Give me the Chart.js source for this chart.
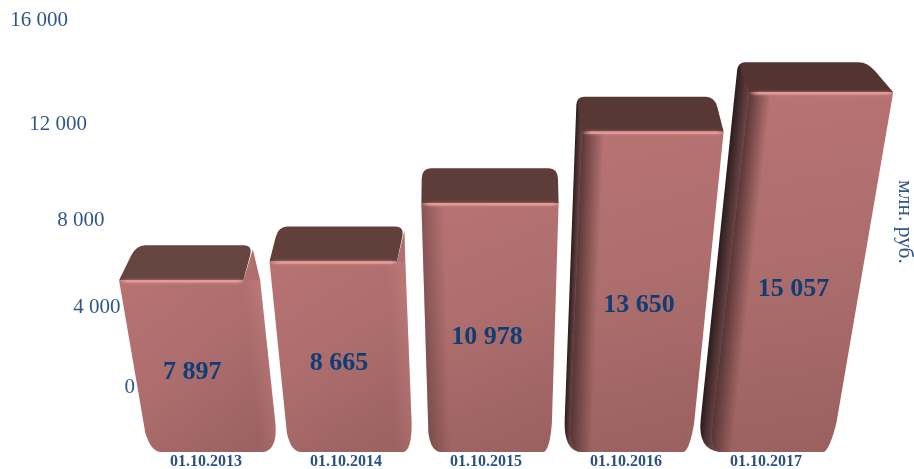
<!DOCTYPE html>
<html>
<head>
<meta charset="utf-8">
<script src="https://cdn.jsdelivr.net/npm/chart.js@4"></script>
<style>
  html, body { margin: 0; padding: 0; background: #fff; }
  #wrap { position: relative; width: 914px; height: 469px; }
</style>
</head>
<body>
<div id="wrap"><canvas id="c"></canvas></div>
<script>
const categories = ['01.10.2013', '01.10.2014', '01.10.2015', '01.10.2016', '01.10.2017'];
const values = [7897, 8665, 10978, 13650, 15057];
const tickValues = [0, 4000, 8000, 12000, 16000];
const unitLabel = 'млн. руб.';

const SERIF = '"Liberation Serif", "Times New Roman", serif';
const VP = { x: 490, y: 2440 }; // vanishing point of the vertical edges
const WARP = 0.166;             // upward stretch of the value axis

function fmt(v) {
    return String(v).replace(/\B(?=(\d{3})+$)/g, ' ');
}

// x of a line going to the vanishing point, known at (x0, y0)
function skew(x0, y0, y) {
    return VP.x + (x0 - VP.x) * (VP.y - y) / (VP.y - y0);
}

// linear scale with the perspective stretch of the picture
class PerspectiveScale extends Chart.LinearScale {
    static id = 'perspective';
    static defaults = Chart.LinearScale.defaults;
    getPixelForValue(value) {
        const d = (value - this.min) / (this.max - this.min);
        return this.getPixelForDecimal(d * (1 - WARP) / (1 - WARP * d));
    }
}
Chart.register(PerspectiveScale);

function edgeFade(ctx, x0, y0, x1, y1, size, from, to) {
    // gradient running across a slanted edge
    const len = Math.hypot(x1 - x0, y1 - y0);
    const nx = (y1 - y0) / len, ny = -(x1 - x0) / len;
    const g = ctx.createLinearGradient(x0, y0, x0 + nx * size, y0 + ny * size);
    g.addColorStop(0, from);
    g.addColorStop(1, to);
    return g;
}

function drawBar(ctx, el, value) {
    const { x, y, base, width } = el;
    const x0 = x - width / 2;
    // bars left of the centre show their rounded right flank as well
    const x1 = x + width / 2 + Math.max(0, VP.x - x) * Math.max(0, VP.x - x) * 0.0001;
    const fl = skew(x0, base, y), fr = skew(x1, base, y);
    const depth = Math.min(35, 30 + (y - 92) * 0.15);
    const by = y - depth;
    const bl = fl - (fl - 430) * (fl < 430 ? 0.055 : 0.035);
    const br = fr - 0.00015 * (fr - 480) * (fr - 480);
    const topInset = Math.max(0, VP.x - x) * 0.06;
    const bottom = base - 3;
    const outer = yy => VP.x + (bl - VP.x) * (VP.y - yy) / (VP.y - by);
    const hasSide = outer(base) < x0 - 1;

    // dark left side, only where the back corner sticks out
    if (hasSide) {
        ctx.beginPath();
        ctx.moveTo(bl + 8, by);
        ctx.quadraticCurveTo(outer(by), by, outer(by + 8), by + 8);
        ctx.lineTo(outer(base - 35), base - 35);
        ctx.quadraticCurveTo(outer(base - 6), base - 6, x0 + 10, bottom);
        ctx.lineTo(fl + 8, y);
        ctx.closePath();
        ctx.fillStyle = edgeFade(ctx, outer(by), by, outer(base), base, fl - outer(y), '#2c1c1c', '#6b4546');
        ctx.fill();
    }

    // front face
    ctx.beginPath();
    ctx.moveTo(fl, y);
    ctx.lineTo(fr - topInset, y);
    ctx.lineTo(br, by + 4);
    ctx.lineTo(fr, y);
    ctx.lineTo(skew(x1, base, base - 32), base - 32);
    ctx.quadraticCurveTo(x1 - 1, base - 6, x + width / 2 - 7, bottom);
    ctx.lineTo(x0 + 12, bottom);
    ctx.quadraticCurveTo(x0 + 2, bottom, skew(x0, base, base - 22), base - 22);
    ctx.closePath();
    const g = ctx.createLinearGradient(fl, y, x1 - 20, base);
    g.addColorStop(0, '#b87272');
    g.addColorStop(0.45, '#ae6e6e');
    g.addColorStop(1, '#9b6060');
    ctx.fillStyle = g;
    ctx.fill();

    // soft edges of the front face
    ctx.save();
    ctx.clip();
    const shade = Math.min(1, Math.max(0, (x - 350) / 280));
    if (shade > 0) {
        ctx.fillStyle = edgeFade(ctx, fl, y, x0, base, 22, `rgba(66,40,40,${0.8 * shade})`, 'rgba(66,40,40,0)');
        ctx.fillRect(x0 - 40, y, width + 80, base - y);
    }
    if (x < VP.x) {
        ctx.fillStyle = edgeFade(ctx, fr, y, x1, base, -18, 'rgba(225,150,150,0.22)', 'rgba(225,150,150,0)');
        ctx.fillRect(x0 - 40, y, width + 80, base - y);
    }
    ctx.restore();

    // top face
    const k = (x - 210) / 560;
    const topColor = `rgb(${Math.round(102 - 19 * k)},${Math.round(68 - 16 * k)},${Math.round(64 - 15 * k)})`;
    const frTop = fr - topInset;
    ctx.beginPath();
    ctx.moveTo(fl, y);
    ctx.lineTo(bl + (fl - bl) * 0.3, by + (y - by) * 0.3);
    ctx.quadraticCurveTo(bl, by, bl + 9, by);
    ctx.lineTo(br - 9, by);
    ctx.quadraticCurveTo(br, by, br + (frTop - br) * 0.3, by + (y - by) * 0.3);
    ctx.lineTo(frTop, y);
    ctx.closePath();
    ctx.fillStyle = topColor;
    ctx.fill();

    // bright rim between top and front
    ctx.save();
    const rim = ctx.createLinearGradient(fl, 0, frTop, 0);
    rim.addColorStop(0, 'rgba(227,154,150,0)');
    rim.addColorStop(0.07, '#e39a96');
    rim.addColorStop(0.95, '#e39a96');
    rim.addColorStop(1, 'rgba(227,154,150,0.2)');
    ctx.strokeStyle = rim;
    ctx.lineWidth = 2.5;
    ctx.shadowColor = 'rgba(225,150,150,0.8)';
    ctx.shadowBlur = 3;
    ctx.beginPath();
    ctx.moveTo(fl, y + 1);
    ctx.lineTo(frTop, y + 1);
    ctx.stroke();
    ctx.restore();

    // value label sits a bit under the middle of the front face
    const h = base - y;
    const ly = base - h * (0.51 - h * 0.00013) + 2;
    ctx.fillStyle = '#0f3d76';
    ctx.font = 'bold 26px ' + SERIF;
    ctx.textAlign = 'center';
    ctx.textBaseline = 'middle';
    ctx.fillText(fmt(value), skew(x, base, ly) - (770 - x) * 0.0107, ly);
}

const bars3d = {
    id: 'bars3d',
    beforeDatasetsDraw(chart) {
        // value axis printed on the back wall, it leans like the bars
        const { ctx, chartArea, scales } = chart;
        ctx.save();
        ctx.fillStyle = '#2f5888';
        ctx.font = '21px ' + SERIF;
        ctx.textAlign = 'right';
        ctx.textBaseline = 'middle';
        tickValues.forEach(v => {
            const yy = 387 - (chartArea.bottom - scales.y.getPixelForValue(v)) * 367 / 390;
            ctx.fillText(fmt(v), 135 + (yy - 387) * 0.1826, yy);
        });
        ctx.restore();

        ctx.save();
        ctx.translate(905, 222);
        ctx.rotate(Math.PI / 2);
        ctx.fillStyle = '#2f5888';
        ctx.font = '21.5px ' + SERIF;
        ctx.textAlign = 'center';
        ctx.textBaseline = 'middle';
        ctx.fillText(unitLabel, 0, 0);
        ctx.restore();
    },
    afterDatasetsDraw(chart) {
        const { ctx } = chart;
        ctx.save();
        chart.getDatasetMeta(0).data.forEach((el, i) => drawBar(ctx, el, values[i]));
        ctx.restore();
    }
};

new Chart(document.getElementById('c'), {
    type: 'bar',
    data: {
        labels: categories,
        datasets: [{
            data: values,
            backgroundColor: 'rgba(0,0,0,0)',
            barPercentage: 0.87,
            categoryPercentage: 1
        }]
    },
    options: {
        responsive: true,
        maintainAspectRatio: false,
        animation: false,
        layout: { padding: { left: 140, right: 74, top: 65, bottom: 0 } },
        plugins: { legend: { display: false }, tooltip: { enabled: false } },
        scales: {
            x: {
                grid: { display: false, drawTicks: false },
                border: { display: false },
                afterFit(scale) { scale.height = 14; },
                ticks: {
                    color: '#2a5187',
                    font: { family: SERIF, size: 16, weight: 'bold', lineHeight: 1 },
                    padding: -1,
                    labelOffset: -4,
                    maxRotation: 0
                }
            },
            y: {
                type: 'perspective',
                display: false,
                min: 0,
                max: 16000
            }
        }
    },
    plugins: [bars3d]
});
</script>
</body>
</html>
